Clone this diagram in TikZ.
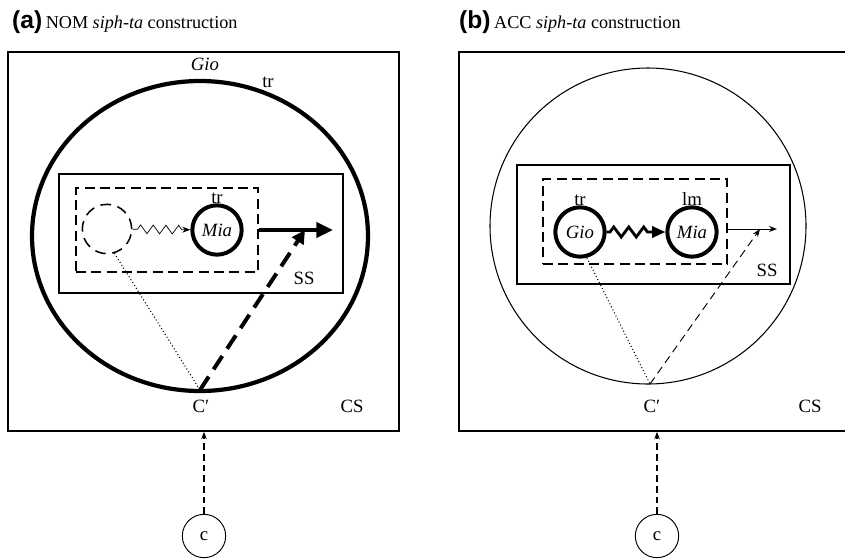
\documentclass[tikz,border=0pt]{standalone}
\usepackage{fontspec}
\setmainfont{Liberation Serif}
\newfontfamily\panelfont{Liberation Sans}
\usetikzlibrary{arrows.meta,positioning,decorations.pathmorphing}

\begin{document}
\begin{tikzpicture}[
            x=0.3mm,y=-0.3mm,
            font=\fontsize{16}{18}\selectfont,
            frame/.style={draw,line width=1.5pt,minimum width=117.3mm,minimum height=113.7mm,inner sep=0pt},
            ssbox/.style={draw,line width=1.2pt,minimum height=35.7mm,inner sep=0pt},
            dbox/.style={draw,line width=1.4pt,dash pattern=on 3mm off 1.6mm,inner sep=0pt},
            ent/.style={draw,circle,line width=3.4pt,minimum size=14.8mm,inner sep=0pt,font=\fontsize{16}{18}\selectfont\itshape},
            ghost/.style={draw,circle,line width=1.3pt,dash pattern=on 3.2mm off 2mm,minimum size=14.8mm,inner sep=0pt},
            cnode/.style={draw,circle,line width=0.8pt,minimum size=13mm,inner sep=0pt},
            lbl/.style={inner sep=1pt},
            title/.style={anchor=base west,inner sep=0pt,font=\fontsize{15.5}{18}\selectfont},
            zz/.style={decorate,decoration={zigzag,amplitude=1.3mm,segment length=3.8mm,pre length=1.5mm,post length=2mm}},
            arrow/.style={-{Stealth[length=2.4mm,width=1.8mm]},line width=0.8pt},
            bigarrow/.style={-{Triangle[length=5mm,width=4.5mm]},line width=3.4pt},
            carrow/.style={-{Stealth[length=2.2mm]},line width=0.9pt,dash pattern=on 2mm off 1.2mm}
        ]
            \useasboundingbox (0,0) rectangle (845,558);
            \clip (0,0) rectangle (845,558);

            % panel (a)
            \node[title] (titleA) at (12,28) {{\panelfont\bfseries\fontsize{21}{22}\selectfont(a)}\kern3pt NOM \textit{siph-ta} construction};
            \node[frame] (frameA) at (203.5,241.5) {};
            \draw[line width=3.6pt] (200,236) ellipse [x radius=168,y radius=155];
            \coordinate (cpA) at (200,390);
            \node[ssbox,minimum width=85.2mm] (ssA) at (201,233.5) {};
            \node[dbox,minimum width=54.6mm,minimum height=25.2mm] (dashA) at (167,230) {};
            \node[ghost] (emptyA) at (107,229) {};
            \node[ent] (miaA) at (217,230) {Mia};
            \node[lbl,above=-0.5mm of miaA] (trA) {tr};
            \node[lbl] (gioA) at (205,64) {\textit{Gio}};
            \node[lbl] (trtopA) at (268,82) {tr};
            \node[lbl] (ssLblA) at (304,278) {SS};
            \node[lbl] (cpLblA) at (201,406) {C′};
            \node[lbl] (csA) at (352,406) {CS};
            \node[cnode] (cA) at (204,536) {\textsc{c}};
            \coordinate (endA) at (333,230);
            \coordinate (tipA) at (305,230);

            \draw[arrow,line width=0.6pt,zz] (emptyA) -- (miaA);
            \draw[bigarrow] (dashA.east) -- (endA);
            \draw[-{Triangle[length=4mm,width=4mm]},line width=3.4pt,dash pattern=on 4.8mm off 2.6mm] (cpA) -- (tipA);
            \draw[dotted,line width=0.9pt] (emptyA.-73) -- (cpA);
            \draw[carrow] (cA) -- (cA |- frameA.south);

            % panel (b)
            \node[title] (titleB) at (459,28) {{\panelfont\bfseries\fontsize{21}{22}\selectfont(b)}\kern3pt ACC \textit{siph-ta} construction};
            \node[frame] (frameB) at (654.5,241.5) {};
            \draw[line width=0.9pt] (648,226) circle [radius=158];
            \coordinate (cpB) at (650,384);
            \node[ssbox,minimum width=81.9mm] (ssB) at (653.5,224.5) {};
            \node[dbox,minimum width=55.2mm,minimum height=25.5mm] (dashB) at (635,221.5) {};
            \node[ent] (gioB) at (580,232) {Gio};
            \node[ent] (miaB) at (692,232) {Mia};
            \node[lbl,above=-0.5mm of gioB] (trB) {tr};
            \node[lbl,above=-0.5mm of miaB] (lmB) {lm};
            \node[lbl] (ssLblB) at (767,270) {SS};
            \node[lbl] (cpLblB) at (652,406) {C′};
            \node[lbl] (csB) at (810,406) {CS};
            \node[cnode] (cB) at (657,536) {\textsc{c}};
            \coordinate (endB) at (777,229);
            \coordinate (tipB) at (760,229);

            \draw[-{Triangle[length=4mm,width=3.4mm]},line width=2.4pt,decorate,decoration={zigzag,amplitude=1.5mm,segment length=4.5mm,pre length=1mm,post length=4.5mm}] (gioB) -- (miaB);
            \draw[arrow] (dashB.east |- endB) -- (endB);
            \draw[arrow,dash pattern=on 2.4mm off 1.5mm] (cpB) -- (tipB);
            \draw[dotted,line width=0.9pt] (gioB.-75) -- (cpB);
            \draw[carrow] (cB) -- (cB |- frameB.south);
        \end{tikzpicture}
\end{document}
